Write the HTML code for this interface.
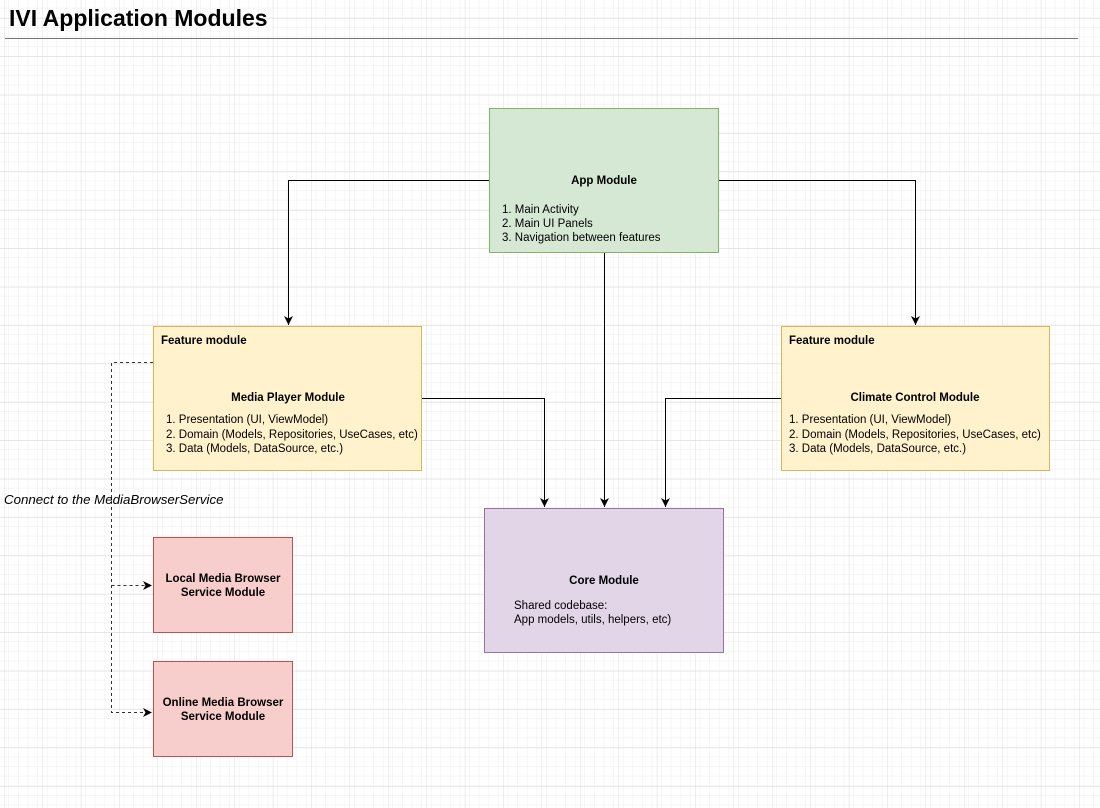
<!DOCTYPE html>
<html><head><meta charset="utf-8"><style>
html,body{margin:0;padding:0;background:#fff}
svg{display:block}
text{font-family:"Liberation Sans",Arial,sans-serif;fill:#000}
</style></head><body>
<svg width="1100" height="808" viewBox="0 0 1100 808" xmlns="http://www.w3.org/2000/svg">
<defs>
<pattern id="minor" width="9.6" height="9.6" patternUnits="userSpaceOnUse" x="4.5" y="18.6">
<path d="M9.6 0V9.6M0 9.6H9.6" stroke="#ececec" stroke-width="1" fill="none"/>
</pattern>
<pattern id="major" width="38.4" height="38.4" patternUnits="userSpaceOnUse" x="4.5" y="18.6">
<rect width="38.4" height="38.4" fill="url(#minor)"/>
<path d="M38.4 0V38.4M0 38.4H38.4" stroke="#dcdcdc" stroke-width="1" fill="none"/>
</pattern>
<marker id="a" markerWidth="12" markerHeight="12" refX="9" refY="6" orient="auto" markerUnits="userSpaceOnUse">
<path d="M0,1.5 L9,6 L0,10.5 L2.5,6 Z" fill="#000"/>
</marker>
</defs>
<rect width="1100" height="808" fill="#fff"/>
<rect width="1100" height="808" fill="url(#major)"/>
<text x="9" y="26" font-size="23" font-weight="bold">IVI Application Modules</text>
<line x1="5" y1="38.5" x2="1078" y2="38.5" stroke="#777" stroke-width="1"/>

<g fill="none" stroke="#000" stroke-width="1">
<path d="M489 180.5H288.5V325" marker-end="url(#a)"/>
<path d="M719 180.5H915.5V325" marker-end="url(#a)"/>
<path d="M604.5 252V507" marker-end="url(#a)"/>
<path d="M422 398.5H544.5V507" marker-end="url(#a)"/>
<path d="M781 398.5H665.5V507" marker-end="url(#a)"/>
</g>
<g fill="none" stroke="#333" stroke-width="1" stroke-dasharray="3,3">
<path d="M153 362.5H111.5V712.5H152" marker-end="url(#a)"/>
<path d="M111.5 585.5H152" marker-end="url(#a)"/>
</g>

<rect x="489.5" y="108.5" width="229" height="144" fill="#d5e8d4" stroke="#82b366"/>
<text x="604" y="184" font-size="11.5" font-weight="bold" text-anchor="middle">App Module</text>
<text font-size="11.5"><tspan x="502" y="213">1. Main Activity</tspan><tspan x="502" y="227">2. Main UI Panels</tspan><tspan x="502" y="241">3. Navigation between features</tspan></text>

<rect x="153.5" y="326.5" width="268" height="144" fill="#fff2cc" stroke="#d6b656"/>
<text x="161" y="344" font-size="11.5" font-weight="bold">Feature module</text>
<text x="288" y="401" font-size="11.5" font-weight="bold" text-anchor="middle">Media Player Module</text>
<text font-size="11.5"><tspan x="166" y="423">1. Presentation (UI, ViewModel)</tspan><tspan x="166" y="438">2. Domain (Models, Repositories, UseCases, etc)</tspan><tspan x="166" y="452">3. Data (Models, DataSource, etc.)</tspan></text>

<rect x="781.5" y="326.5" width="268" height="144" fill="#fff2cc" stroke="#d6b656"/>
<text x="789" y="344" font-size="11.5" font-weight="bold">Feature module</text>
<text x="915" y="401" font-size="11.5" font-weight="bold" text-anchor="middle">Climate Control Module</text>
<text font-size="11.5"><tspan x="789" y="423">1. Presentation (UI, ViewModel)</tspan><tspan x="789" y="438">2. Domain (Models, Repositories, UseCases, etc)</tspan><tspan x="789" y="452">3. Data (Models, DataSource, etc.)</tspan></text>

<rect x="484.5" y="508.5" width="239" height="144" fill="#e1d5e7" stroke="#9673a6"/>
<text x="604" y="584" font-size="11.5" font-weight="bold" text-anchor="middle">Core Module</text>
<text font-size="11.5"><tspan x="514" y="609">Shared codebase:</tspan><tspan x="514" y="623">App models, utils, helpers, etc)</tspan></text>

<rect x="153.5" y="537.5" width="139" height="95" fill="#f8cecc" stroke="#b85450"/>
<text font-size="11.5" font-weight="bold" text-anchor="middle"><tspan x="223" y="582">Local Media Browser</tspan><tspan x="223" y="596">Service Module</tspan></text>

<rect x="153.5" y="661.5" width="139" height="95" fill="#f8cecc" stroke="#b85450"/>
<text font-size="11.5" font-weight="bold" text-anchor="middle"><tspan x="223" y="706">Online Media Browser</tspan><tspan x="223" y="720">Service Module</tspan></text>

<text x="4" y="504" font-size="13.3" font-style="italic">Connect to the MediaBrowserService</text>
</svg>
</body></html>
